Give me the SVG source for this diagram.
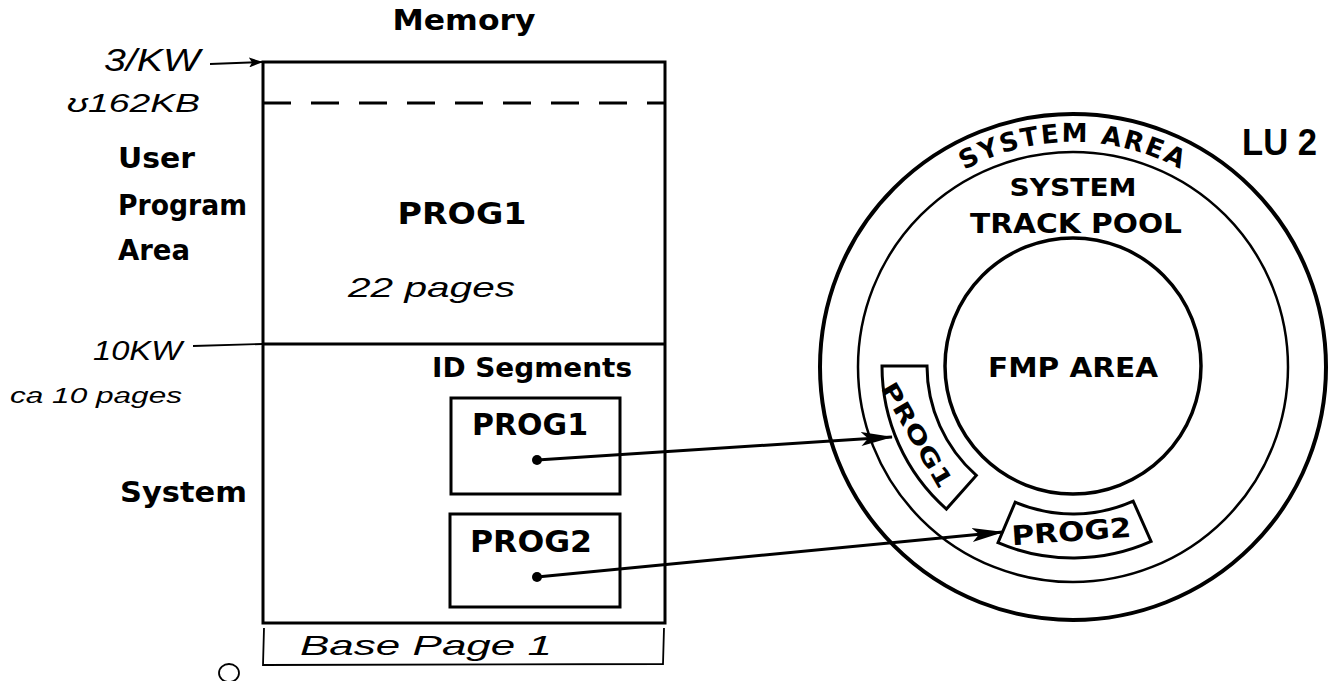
<svg xmlns="http://www.w3.org/2000/svg" width="1331" height="681" viewBox="0 0 1331 681">
<style>
.lbl{font-family:"DejaVu Sans","Liberation Sans",sans-serif;font-weight:bold;fill:#000}
.hand{font-family:"Liberation Sans",sans-serif;font-style:italic;font-weight:normal;fill:#000}
.ln{fill:none;stroke:#000;stroke-width:3}
.thin{fill:none;stroke:#000;stroke-width:1.8}
</style>
<defs>
<marker id="ah" markerUnits="userSpaceOnUse" viewBox="0 0 32 16" refX="31" refY="8" markerWidth="32" markerHeight="16" orient="auto"><path d="M0,1 L32,8 L0,15 L7,8 Z" fill="#000"/></marker>
<marker id="ahs" markerUnits="userSpaceOnUse" viewBox="0 0 14 10" refX="13" refY="5" markerWidth="14" markerHeight="10" orient="auto"><path d="M0,0 L14,5 L0,10 L3,5 Z" fill="#000"/></marker>
<path id="arcSys" d="M 862.5,289.4 A 224 224 0 0 1 1283.5,289.4"/>
</defs>
<rect width="1331" height="681" fill="#fff"/>

<g id="memory">
<text class="lbl" x="464" y="30" font-size="29" text-anchor="middle" textLength="143" lengthAdjust="spacingAndGlyphs">Memory</text>
<rect class="ln" x="263" y="62" width="402" height="561"/>
<line class="ln" x1="263" y1="103" x2="665" y2="103" stroke-dasharray="28 20"/>
<line class="ln" x1="263" y1="344" x2="665" y2="344"/>
</g>

<g id="user-area">
<text class="lbl" x="118" y="168" font-size="28" textLength="77" lengthAdjust="spacingAndGlyphs">User</text>
<text class="lbl" x="118" y="215" font-size="28" textLength="129" lengthAdjust="spacingAndGlyphs">Program</text>
<text class="lbl" x="118" y="260" font-size="28" textLength="72" lengthAdjust="spacingAndGlyphs">Area</text>
<text class="lbl" x="462" y="224" font-size="31" text-anchor="middle" textLength="129" lengthAdjust="spacingAndGlyphs">PROG1</text>
<text class="hand" x="348" y="297" font-size="28" textLength="167" lengthAdjust="spacingAndGlyphs">22 pages</text>
</g>

<g id="addr-labels">
<text class="hand" x="104" y="71" font-size="32" textLength="96" lengthAdjust="spacingAndGlyphs">3/KW</text>
<text class="hand" x="67" y="112" font-size="26" textLength="133" lengthAdjust="spacingAndGlyphs">ʊ162KB</text>
<text class="hand" x="93" y="360" font-size="27" textLength="89" lengthAdjust="spacingAndGlyphs">10KW</text>
<text class="hand" x="10" y="403" font-size="22" textLength="172" lengthAdjust="spacingAndGlyphs">ca 10 pages</text>
</g>

<g id="system-area">
<text class="lbl" x="120" y="502" font-size="29" textLength="127" lengthAdjust="spacingAndGlyphs">System</text>
<text class="lbl" x="432" y="377" font-size="26" textLength="200" lengthAdjust="spacingAndGlyphs">ID Segments</text>
</g>

<g id="idseg-prog1">
<rect class="ln" x="451" y="398" width="169" height="96"/>
<text class="lbl" x="472" y="435" font-size="30" textLength="116" lengthAdjust="spacingAndGlyphs">PROG1</text>
<circle cx="537" cy="460" r="5" fill="#000"/>
</g>

<g id="idseg-prog2">
<rect class="ln" x="450" y="514" width="170" height="93"/>
<text class="lbl" x="470" y="552" font-size="31" textLength="122" lengthAdjust="spacingAndGlyphs">PROG2</text>
<circle cx="537" cy="577" r="5" fill="#000"/>
</g>

<g id="base-page">
<path class="thin" d="M264,628 L263,665 L663,664 L664,628"/>
<text class="hand" x="300" y="655" font-size="28" textLength="252" lengthAdjust="spacingAndGlyphs">Base Page  1</text>
<ellipse class="thin" cx="229" cy="673" rx="10" ry="9"/>
</g>

<g id="disk">
<circle cx="1073" cy="367" r="253" fill="none" stroke="#000" stroke-width="4"/>
<circle cx="1073" cy="367" r="215" fill="none" stroke="#000" stroke-width="2.5"/>
<circle cx="1073" cy="366" r="128" fill="none" stroke="#000" stroke-width="3.5"/>
<text class="lbl" font-size="26" letter-spacing="2"><textPath href="#arcSys" startOffset="50%" text-anchor="middle">SYSTEM AREA</textPath></text>
<text class="lbl" x="1073" y="196" font-size="25" text-anchor="middle" textLength="127" lengthAdjust="spacingAndGlyphs">SYSTEM</text>
<text class="lbl" x="1076" y="233" font-size="26" text-anchor="middle" textLength="212" lengthAdjust="spacingAndGlyphs">TRACK POOL</text>
<text class="lbl" x="1073" y="377" font-size="27" text-anchor="middle" textLength="170" lengthAdjust="spacingAndGlyphs">FMP AREA</text>
<text class="lbl" x="1242" y="155" font-size="36" style="font-family:'Liberation Sans',sans-serif" textLength="75" lengthAdjust="spacingAndGlyphs">LU 2</text>
</g>

<g id="disk-prog1">
<path class="ln" d="M 882,366 L 927,366 A 146 146 0 0 0 976.3,475.4 L 946.4,509.1 A 191 191 0 0 1 882,366 Z"/>
<text class="lbl" x="910" y="439" font-size="23" text-anchor="middle" textLength="118" lengthAdjust="spacingAndGlyphs" transform="rotate(60 910 439)">PROG1</text>
</g>

<g id="disk-prog2">
<path class="ln" d="M 1015.2,502.2 A 148 148 0 0 0 1133.2,501.2 L 1151.1,541.4 A 192 192 0 0 1 998,542.7 Z"/>
<text class="lbl" x="1072" y="541" font-size="27" text-anchor="middle" textLength="120" lengthAdjust="spacingAndGlyphs" transform="rotate(-4 1072 541)">PROG2</text>
</g>

<g id="connectors">
<line class="ln" x1="537" y1="460" x2="892" y2="437" marker-end="url(#ah)"/>
<line class="ln" x1="537" y1="577" x2="1003" y2="532" marker-end="url(#ah)"/>
<line class="thin" x1="210" y1="64" x2="262" y2="62" marker-end="url(#ahs)"/>
<line class="thin" x1="193" y1="346" x2="262" y2="344"/>
</g>
</svg>
